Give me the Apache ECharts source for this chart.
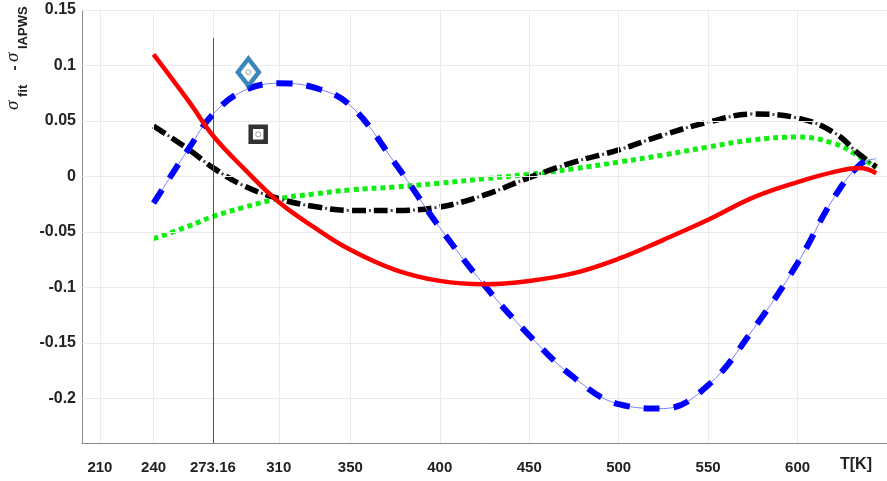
<!DOCTYPE html>
<html>
<head>
<meta charset="utf-8">
<script src="https://cdn.jsdelivr.net/npm/echarts@6/dist/echarts.min.js"></script>
<style>html,body{margin:0;padding:0;background:#fff}#c{width:887px;height:481px}</style>
</head>
<body>
<div id="c"></div>
<script>
// ---- data ----
const T = [240, 260, 273.16, 290, 310, 330, 350, 375, 400, 425, 450, 475, 500, 525, 550, 575, 600, 620, 635, 644];
const redFit   = [0.110, 0.067, 0.037, 0.008, -0.023, -0.046, -0.066, -0.084, -0.094, -0.097, -0.094, -0.087, -0.074, -0.057, -0.039, -0.019, -0.005, 0.004, 0.0077, 0.003];
const blueFit  = [-0.024, 0.026, 0.056, 0.077, 0.084, 0.080, 0.064, 0.012, -0.046, -0.098, -0.143, -0.181, -0.205, -0.209, -0.188, -0.138, -0.078, -0.020, 0.011, 0.016];
const blackFit = [0.0455, 0.024, 0.008, -0.008, -0.020, -0.027, -0.0305, -0.0305, -0.0274, -0.0166, -0.001, 0.013, 0.024, 0.0375, 0.049, 0.0563, 0.0527, 0.040, 0.0194, 0.0086];
const greenFit = [-0.056, -0.0445, -0.036, -0.028, -0.020, -0.0157, -0.012, -0.0094, -0.006, -0.002, 0.002, 0.007, 0.013, 0.0194, 0.0266, 0.033, 0.0356, 0.030, 0.0176, 0.0077];
const diamondPt = [293, 0.094];
const squarePt = [298.5, 0.038];
const xTicks = [210, 240, 273.16, 310, 350, 400, 450, 500, 550, 600];
const yTicks = [-0.2, -0.15, -0.1, -0.05, 0, 0.05, 0.1, 0.15];
const triplePointT = 273.16;
const xMin = 200, xMax = 650, yMin = -0.24, yMax = 0.15;

const pair = arr => T.map((t, i) => [t, arr[i]]);
const fmt = v => String(+v.toFixed(2));
const FONT = 'Liberation Sans, Arial, sans-serif';
const labelStyle = {fontFamily: FONT, fontWeight: 'bold', fontSize: 15, color: '#222'};

const chart = echarts.init(document.getElementById('c'), null, {renderer: 'canvas'});
const gridLineStyle = {color: '#ebebeb', width: 1, type: 'solid'};

const sig = (x) => ({type: 'text', x: x, y: 3, style: {text: 'σ', fontFamily: 'Liberation Serif, serif', fontStyle: 'italic', fontSize: 19, verticalAlign: 'bottom', fill: '#222'}});
const sub = (x, t) => ({type: 'text', x: x, y: 11, style: {text: t, fontFamily: FONT, fontWeight: 'bold', fontSize: 13, verticalAlign: 'bottom', fill: '#222'}});

chart.setOption({
  animation: false,
  backgroundColor: '#fff',
  grid: {left: 82, right: -3, top: 10, bottom: 38, containLabel: false},
  xAxis: {
    type: 'value', min: xMin, max: xMax,
    axisLine: {show: true, onZero: false, lineStyle: {color: '#8a8a8a', width: 1}},
    axisTick: {show: true, inside: true, length: 5, customValues: xTicks, lineStyle: {color: '#8a8a8a'}},
    axisLabel: {customValues: xTicks, margin: 17, formatter: v => String(v), ...labelStyle},
    splitLine: {show: false}
  },
  yAxis: {
    type: 'value', min: yMin, max: yMax,
    axisLine: {show: true, onZero: false, lineStyle: {color: '#8a8a8a', width: 1}},
    axisTick: {show: true, inside: true, length: 5, customValues: yTicks, lineStyle: {color: '#8a8a8a'}},
    axisLabel: {customValues: yTicks, margin: 6, formatter: v => fmt(v), ...labelStyle, fontSize: 16},
    splitLine: {show: false}
  },
  graphic: [
    {
      type: 'group', x: 19, y: 116, rotation: Math.PI / 2,
      children: [
        sig(6),
        sub(19, 'fit'),
        {type: 'text', x: 48, y: 3, style: {text: '-', fontFamily: FONT, fontWeight: 'bold', fontSize: 15, align: 'center', verticalAlign: 'bottom', fill: '#222'}},
        sig(54),
        sub(67, 'IAPWS')
      ]
    },
    {
      type: 'text', x: 840, y: 457,
      style: {text: 'T[K]', fontFamily: FONT, fontWeight: 'bold', fontSize: 16, fill: '#222'}
    }
  ],
  series: [
    {
      type: 'line', data: [], z: 1, silent: true,
      markLine: {
        silent: true, symbol: 'none', label: {show: false}, animation: false,
        lineStyle: gridLineStyle,
        data: xTicks.map(v => ({xAxis: v})).concat(yTicks.map(v => ({yAxis: v})))
      }
    },
    {
      type: 'line', data: [], z: 2, silent: true,
      markLine: {
        silent: true, symbol: 'none', label: {show: false}, animation: false,
        lineStyle: {color: '#555', width: 1, type: 'solid'},
        data: [[{coord: [triplePointT, yMin]}, {coord: [triplePointT, 0.125]}]]
      }
    },
    {name: 'green', type: 'line', data: pair(greenFit), smooth: 0.4, symbol: 'none', z: 3,
     lineStyle: {color: '#11ee11', width: 5, type: [5, 4], cap: 'butt'}},
    {name: 'blackThin', type: 'line', data: pair(blackFit), smooth: 0.4, symbol: 'none', z: 4,
     lineStyle: {color: '#444', width: 3, type: [2, 20], dashOffset: 5, cap: 'butt'}},
    {name: 'black', type: 'line', data: pair(blackFit), smooth: 0.4, symbol: 'none', z: 4,
     lineStyle: {color: '#000', width: 5.5, type: [14, 8], cap: 'butt'}},
    {name: 'blueThin', type: 'line', data: pair(blueFit), smooth: 0.4, symbol: 'none', z: 5,
     lineStyle: {color: '#8080ff', width: 1, type: 'solid'}},
    {name: 'blue', type: 'line', data: pair(blueFit), smooth: 0.4, symbol: 'none', z: 5,
     lineStyle: {color: '#0000ff', width: 6, type: [16, 14], cap: 'butt'}},
    {name: 'red', type: 'line', data: pair(redFit), smooth: 0.4, symbol: 'none', z: 6,
     lineStyle: {color: '#ff0000', width: 4.5, type: 'solid'}},
    {type: 'scatter', data: [diamondPt], symbol: 'diamond', symbolSize: [21, 27], z: 7,
     itemStyle: {color: '#fff', borderColor: '#0a68ac', borderWidth: 4.5}},
    {type: 'scatter', data: [squarePt], symbol: 'rect', symbolSize: 15, z: 7,
     itemStyle: {color: '#fff', borderColor: '#000', borderWidth: 4.5}},
    {type: 'scatter', data: [diamondPt, squarePt], symbol: 'circle', symbolSize: 5, z: 8,
     itemStyle: {color: '#fff', borderColor: '#888', borderWidth: 1}}
  ]
});
</script>
</body>
</html>
